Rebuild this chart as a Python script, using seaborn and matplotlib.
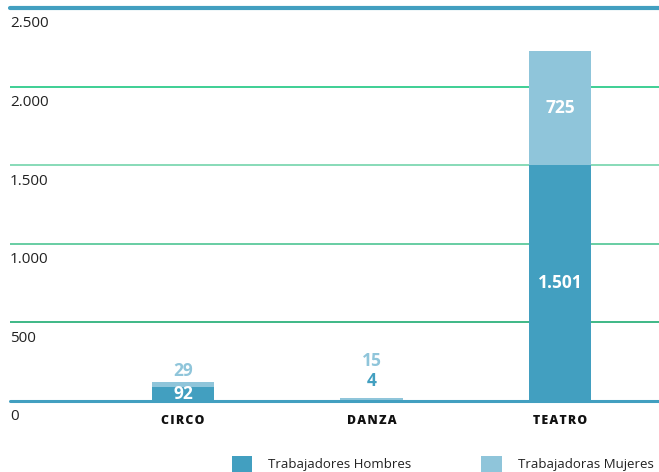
import pandas as pd
import matplotlib.pyplot as plt
import seaborn as sns
from matplotlib.patches import Patch
from matplotlib.transforms import blended_transform_factory

# data
categorias = ["CIRCO", "DANZA", "TEATRO"]
hombres = [92, 4, 1501]
mujeres = [29, 15, 725]
yticks = [0, 500, 1000, 1500, 2000, 2500]

col_h = "#429fc0"
col_m = "#8fc5da"
grid_cols = {500: "#2fb27d", 1000: "#5cc99c", 1500: "#7ed8b2", 2000: "#2fcb8b"}

df = pd.DataFrame({"categoria": categorias, "hombres": hombres, "mujeres": mujeres})
df["total"] = df["hombres"] + df["mujeres"]

sns.set_style("white")
plt.rcParams["font.family"] = ["Open Sans", "DejaVu Sans"]

fig = plt.figure(figsize=(6.59, 4.72), dpi=100)
ax = fig.add_axes([10 / 659, 1 - 401 / 472, 1 - 10 / 659, 393 / 472])

sns.barplot(data=df, x="categoria", y="total", color=col_m, width=0.33,
            saturation=1, linewidth=0, ax=ax, zorder=3)
sns.barplot(data=df, x="categoria", y="hombres", color=col_h, width=0.33,
            saturation=1, linewidth=0, ax=ax, zorder=3)

ax.set_xlim(-0.918, 2.525)
ax.set_ylim(0, 2500)
for s in ax.spines.values():
    s.set_visible(False)
ax.set_xlabel("")
ax.set_ylabel("")
ax.set_xticks([])
ax.set_yticks([])

# gridlines
for v, c in grid_cols.items():
    ax.axhline(v, color=c, lw=1.3, zorder=1)
ax.axhline(2500, color=col_h, lw=3, zorder=1, clip_on=False)
ax.axhline(0, color=col_h, lw=2.2, zorder=2, clip_on=False)

# y tick labels below each line
tr = blended_transform_factory(ax.transAxes, ax.transData)
for v in yticks:
    lab = f"{v:,}".replace(",", ".")
    ax.annotate(lab, xy=(0, v), xycoords=tr, xytext=(0, -6), textcoords="offset points",
                ha="left", va="top", fontsize=11, color="#222222")

# category labels, letter spaced
for i, c in enumerate(categorias):
    ax.annotate("\u200a".join(c), xy=(i, 0), xytext=(0, -10), textcoords="offset points",
                ha="center", va="top", fontsize=8.8, fontweight="heavy", color="#111111")

# value labels
fs = 12.5
for i, (h, m) in enumerate(zip(hombres, mujeres)):
    hl = f"{h:,}".replace(",", ".")
    ml = f"{m:,}".replace(",", ".")
    if h > 60:
        ax.text(i, h / 2, hl, ha="center", va="center", fontsize=fs,
                fontweight="bold", color="white", zorder=5)
        if m > 200:
            ax.text(i, h + m / 2, ml, ha="center", va="center", fontsize=fs,
                    fontweight="bold", color="white", zorder=5)
        else:
            ax.annotate(ml, xy=(i, h + m), xytext=(0, 8), textcoords="offset points",
                        ha="center", va="center", fontsize=fs, fontweight="bold",
                        color=col_m, zorder=5)
    else:
        ax.annotate(hl, xy=(i, h + m), xytext=(0, 12), textcoords="offset points",
                    ha="center", va="center", fontsize=fs, fontweight="bold",
                    color=col_h, zorder=5)
        ax.annotate(ml, xy=(i, h + m), xytext=(0, 27), textcoords="offset points",
                    ha="center", va="center", fontsize=fs, fontweight="bold",
                    color=col_m, zorder=5)

handles = [Patch(facecolor=col_h, edgecolor="none"), Patch(facecolor=col_m, edgecolor="none")]
fig.legend(handles, ["Trabajadores Hombres", "Trabajadoras Mujeres"], ncol=2,
           loc="lower left", bbox_to_anchor=(220 / 659, -12 / 472), frameon=False,
           fontsize=9.5, handlelength=1.55, handleheight=1.55, handletextpad=1.2,
           columnspacing=5.3, labelcolor="#222222")

fig.savefig("out.png", dpi=100)
